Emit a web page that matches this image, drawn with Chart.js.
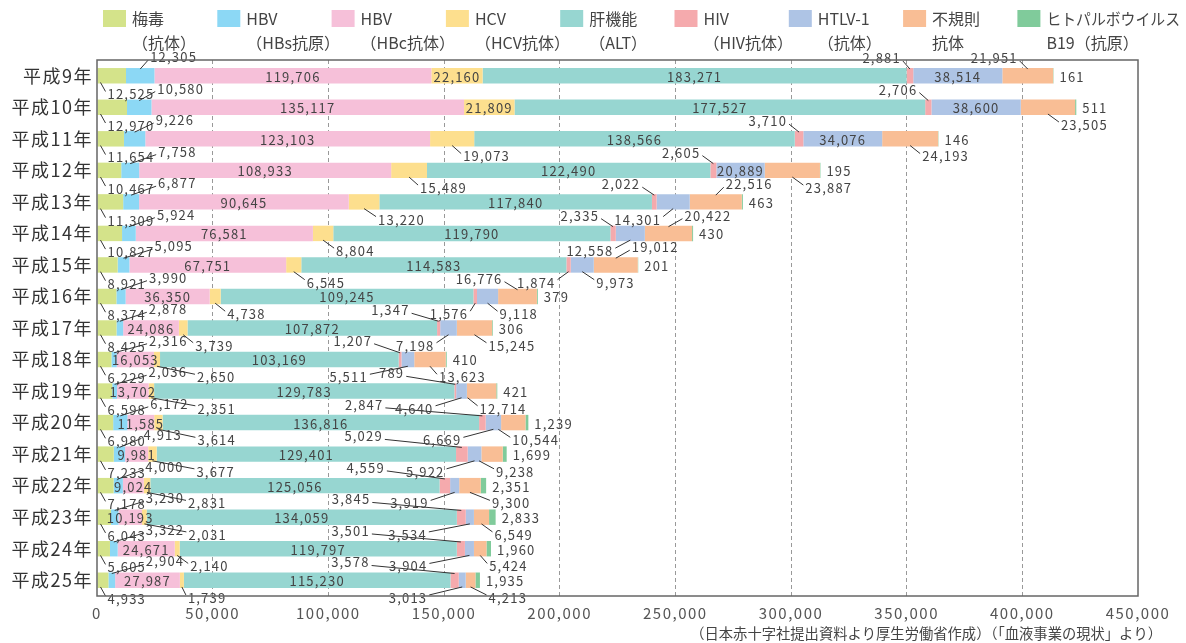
<!DOCTYPE html>
<html lang="ja">
<head>
<meta charset="utf-8">
<title>献血血液の検査結果</title>
<script src="https://cdn.jsdelivr.net/npm/chart.js@4.4.1/dist/chart.umd.min.js"></script>
<style>
  body { margin: 0; background: #fff; }
  canvas { display: block; }
</style>
</head>
<body>
<canvas id="chart1" width="1186" height="643"></canvas>
<script>
const years = ['平成9年', '平成10年', '平成11年', '平成12年', '平成13年', '平成14年', '平成15年', '平成16年', '平成17年',
  '平成18年', '平成19年', '平成20年', '平成21年', '平成22年', '平成23年', '平成24年', '平成25年'];

const syphilis = [12525, 12970, 11654, 10467, 11309, 10827, 8921, 8374, 8425, 6229, 6598, 6980, 7233, 7178, 6043, 5605, 4933];
const hbsAg = [12305, 10580, 9226, 7758, 6877, 5924, 5095, 3990, 2878, 2316, 2036, 6172, 4913, 4000, 3230, 3322, 2904];
const hbcAb = [119706, 135117, 123103, 108933, 90645, 76581, 67751, 36350, 24086, 16053, 13702, 11585, 9981, 9024, 10193, 24671, 27987];
const hcv = [22160, 21809, 19073, 15489, 13220, 8804, 6545, 4738, 3739, 2650, 2351, 3614, 3677, 2831, 2031, 2140, 1739];
const alt = [183271, 177527, 138566, 122490, 117840, 119790, 114583, 109245, 107872, 103169, 129783, 136816, 129401, 125056, 134059, 119797, 115230];
const hiv = [2881, 2706, 3710, 2605, 2022, 2335, 1874, 1576, 1347, 1207, 789, 2847, 5029, 4559, 3845, 3501, 3578];
const htlv = [38514, 38600, 34076, 20889, 14301, 12558, 9973, 9118, 7198, 5511, 4640, 6669, 5922, 3919, 3534, 3904, 3013];
const irregular = [21951, 23505, 24193, 23887, 22516, 20422, 19012, 16776, 15245, 13623, 12714, 10544, 9238, 9300, 6549, 5424, 4213];
const b19 = [161, 511, 146, 195, 463, 430, 201, 379, 306, 410, 421, 1239, 1699, 2351, 2833, 1960, 1935];

const seriesNames = [
  ['梅毒', '（抗体）'],
  ['HBV', '（HBs抗原）'],
  ['HBV', '（HBc抗体）'],
  ['HCV', '（HCV抗体）'],
  ['肝機能', '（ALT）'],
  ['HIV', '（HIV抗体）'],
  ['HTLV-1', '（抗体）'],
  ['不規則', '抗体'],
  ['ヒトパルボウイルス', 'B19（抗原）']
];
const colors = ['#d4e38a', '#8cd8f5', '#f6c0d9', '#fddf8e', '#97d6d1', '#f5aaad', '#aec4e5', '#f9be95', '#80cb9b'];

// label placement: 'c' inside the segment, 'r' right of the bar,
// [dx, dy, shift] leader line from the segment edge (shift moves the start point)
const C = 'c', R = 'r';
const placements = [
  Array(17).fill([5, 9]),
  [8, 16, 19, 26, 25, 26, 29, 26, 27, 33, 32, 28, 22, 25, 29, 30, 32].map(d => [d, -9]),
  Array(17).fill(C),
  [C, C, [9, 8], [9, 8], [12, 8], [11, 8], [11, 8], [10, 8], [10, 8], [38, 8], [44, 8], [37, 8], [42, 8], [39, 8], [42, 8], [11, 8], [4, 8]],
  Array(17).fill(C),
  [[-7, -8], [-9, -8], [-10, -8], [-11, -8], [-12, -8], [-12, -8], [-11, 8], [-5, 8], [-27, -8], [-26, -9], [-49, -8], [-97, -8], [-77, -8], [-58, -8], [-89, -8], [-89, -8], [-83, -8]],
  [C, C, C, C, [-10, 8], [-15, 8], [12, 8], [10, 8], [-12, 8], [-38, 8], [-26, 8], [-30, 8], [-28, 8], [-24, 8], [-41, 8], [-40, 8], [-33, 8]],
  [[-8, -8], [11, 8], [10, 8], [11, 8], [8, -8], [14, -8], [14, -8], [-13, -8], [12, 8], [7, 8], [10, 8, -14], [12, 8, -15], [15, 8, -13], [20, 8], [11, 8], [7, 8], [16, 8]],
  Array(17).fill(R)
];

const values = [syphilis, hbsAg, hbcAb, hcv, alt, hiv, htlv, irregular, b19];
const fmt = v => v.toLocaleString('en-US');

const segLabels = {
  id: 'segLabels',
  beforeDraw(chart) {
    chart.ctx.letterSpacing = '1.5px';
  },
  afterDatasetsDraw(chart) {
    const ctx = chart.ctx;
    ctx.save();
    ctx.font = '13px "Noto Sans CJK JP"';
    ctx.letterSpacing = '1.2px';
    ctx.textBaseline = 'middle';
    ctx.strokeStyle = '#333';
    ctx.lineWidth = 1;
    chart.data.datasets.forEach((ds, i) => {
      chart.getDatasetMeta(i).data.forEach((bar, j) => {
        const spec = placements[i][j];
        const left = Math.min(bar.base, bar.x), right = Math.max(bar.base, bar.x);
        const top = bar.y - bar.height / 2, bottom = bar.y + bar.height / 2;
        const text = fmt(ds.data[j]);
        ctx.fillStyle = '#444';
        if (spec === C) {
          ctx.textAlign = 'center';
          ctx.fillText(text, (left + right) / 2, bar.y + 1);
          return;
        }
        if (spec === R) {
          ctx.textAlign = 'left';
          ctx.fillText(text, right + 6, bar.y + 1);
          return;
        }
        const [dx, dy, shift = 0] = spec;
        const ax = (i === 0 ? left + 3 : (left + right) / 2) + shift;
        const ay = dy < 0 ? top + 1 : bottom - 1;
        const px = ax + dx, py = ay + dy;
        ctx.beginPath();
        ctx.moveTo(ax, ay);
        ctx.lineTo(px, py);
        ctx.stroke();
        ctx.textAlign = dx > 0 ? 'left' : 'right';
        ctx.fillText(text, px + (dx > 0 ? 2 : -2), py + (dy > 0 ? 3 : -3));
      });
    });
    ctx.restore();
  },
  afterDraw(chart) {
    const ctx = chart.ctx;
    const a = chart.chartArea;
    ctx.save();
    ctx.letterSpacing = '0px';
    // frame
    ctx.strokeStyle = '#666';
    ctx.lineWidth = 1.5;
    ctx.strokeRect(a.left, a.top, a.right - a.left, a.bottom - a.top);
    // legend
    ctx.font = '16px "Noto Sans CJK JP"';
    ctx.textBaseline = 'middle';
    ctx.textAlign = 'left';
    seriesNames.forEach((name, i) => {
      const x = 103 + i * 114.3;
      ctx.fillStyle = colors[i];
      ctx.fillRect(x, 10, 23, 17);
      ctx.fillStyle = '#444';
      ctx.fillText(name[0], x + 29, 19, 1180 - (x + 29));
      ctx.fillText(name[1], x + 29, 43, 1180 - (x + 29));
    });
    // source note
    ctx.font = '14.3px "Noto Sans CJK JP"';
    ctx.textAlign = 'right';
    ctx.fillText('（日本赤十字社提出資料より厚生労働省作成）（「血液事業の現状」より）', 1162, 634);
    ctx.restore();
  }
};

const ctx = document.getElementById('chart1');

new Chart(ctx, {
  type: 'bar',
  data: {
    labels: years,
    datasets: values.map((v, i) => ({
      label: seriesNames[i].join(''),
      data: v,
      backgroundColor: colors[i],
      borderWidth: 0,
      barPercentage: 0.5,
      categoryPercentage: 0.98
    }))
  },
  options: {
    indexAxis: 'y',
    responsive: false,
    animation: false,
    layout: { padding: { top: 60, right: 48, bottom: 17, left: 0 } },
    plugins: {
      legend: { display: false },
      tooltip: { enabled: false }
    },
    scales: {
      x: {
        stacked: true,
        min: 0,
        max: 450000,
        afterFit: s => { s.height = 30; },
        ticks: {
          stepSize: 50000,
          padding: 8,
          color: '#555',
          font: { family: '"Noto Sans CJK JP"', size: 15 },
          callback: v => fmt(v)
        },
        grid: {
          drawTicks: false,
          color: c => (c.tick && (c.tick.value === 0 || c.tick.value === 450000)) ? 'rgba(0,0,0,0)' : '#999',
          lineWidth: 1
        },
        border: { display: false, dash: [4, 3] }
      },
      y: {
        stacked: true,
        afterFit: s => { s.width = 97; },
        ticks: {
          padding: 4,
          color: '#333',
          font: { family: '"Noto Sans CJK JP"', size: 18 }
        },
        grid: { display: false, drawTicks: false },
        border: { display: false }
      }
    }
  },
  plugins: [segLabels]
});
</script>
</body>
</html>
